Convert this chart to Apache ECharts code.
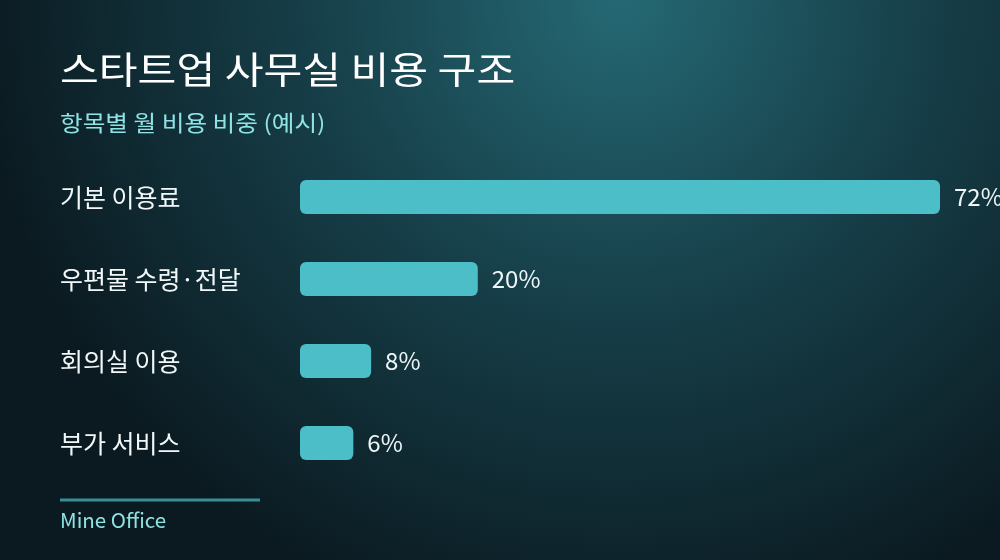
<!DOCTYPE html>
<html>
<head>
<meta charset="utf-8">
<script src="https://cdn.jsdelivr.net/npm/echarts@6/dist/echarts.min.js"></script>
<style>
html,body{margin:0;padding:0;background:#0c1d24;}
#main{width:1000px;height:560px;}
</style>
</head>
<body>
<div id="main"></div>
<script>
const titleText = '스타트업 사무실 비용 구조';
const subtitleText = '항목별 월 비용 비중 (예시)';
const sourceText = 'Mine Office';
const categories = ['기본 이용료', '우편물 수령·전달', '회의실 이용', '부가 서비스'];
const shares = [72, 20, 8, 6];

const FONT = '"Noto Sans CJK KR", "Noto Sans", sans-serif';
const chart = echarts.init(document.getElementById('main'));
chart.setOption({
  backgroundColor: {
    type: 'radial', x: 0.62, y: 0, r: 1.15,
    colorStops: [
      { offset: 0, color: '#256974' },
      { offset: 0.45, color: '#17414b' },
      { offset: 1, color: '#0b1a21' }
    ]
  },
  grid: { left: 300, right: 60, top: 156, bottom: 76 },
  xAxis: {
    type: 'value', min: 0, max: 72,
    show: false
  },
  yAxis: {
    type: 'category', data: categories, inverse: true,
    axisLine: { show: false }, axisTick: { show: false },
    axisLabel: {
      align: 'left', margin: 240, color: '#f2f7f8', fontSize: 25,
      fontFamily: FONT, padding: [0, 0, 6, 0]
    }
  },
  series: [{
    type: 'bar', data: shares, barWidth: 34,
    itemStyle: { color: '#4bbec8', borderRadius: 6 },
    label: {
      show: true, position: 'right', distance: 14,
      formatter: '{c}%', color: '#eef6f7', fontSize: 24, fontFamily: FONT
    },
    silent: true
  }],
  graphic: [
    { type: 'text', x: 60, y: 51, scaleX: 1.14,
      style: { text: titleText, fill: '#ffffff', fontSize: 37, fontFamily: FONT, verticalAlign: 'top' } },
    { type: 'text', x: 60, y: 112, scaleX: 1.12,
      style: { text: subtitleText, fill: '#8fe3e4', fontSize: 22, fontFamily: FONT, verticalAlign: 'top' } },
    { type: 'line', shape: { x1: 60, y1: 500, x2: 260, y2: 500 },
      style: { stroke: '#3a8f96', lineWidth: 3 } },
    { type: 'text', x: 60, y: 510,
      style: { text: sourceText, fill: '#8fe3e4', fontSize: 20.5, fontFamily: FONT, verticalAlign: 'top' } }
  ]
});
</script>
</body>
</html>
